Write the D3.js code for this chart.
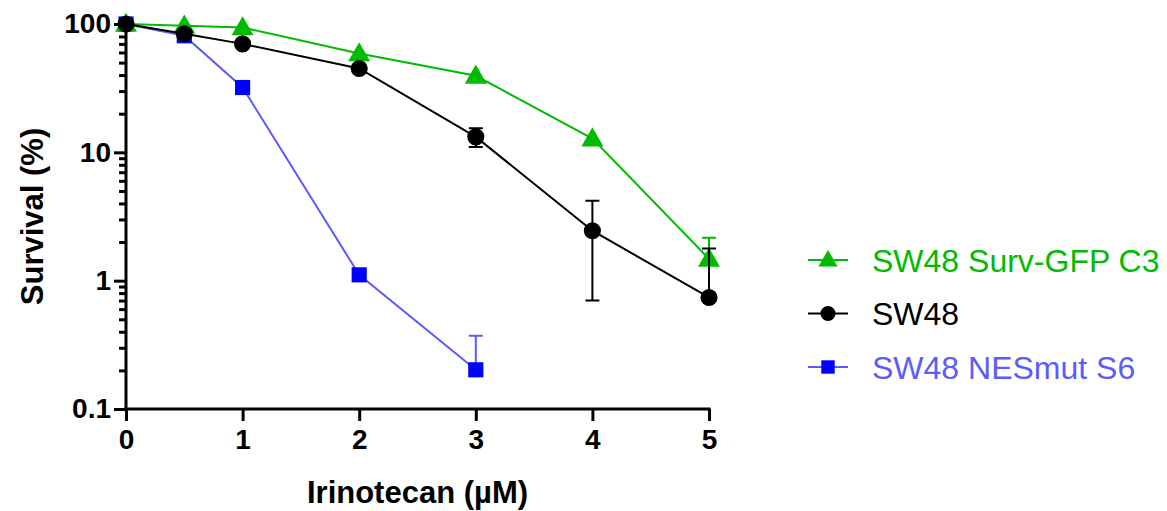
<!DOCTYPE html>
<html>
<head>
<meta charset="utf-8">
<script src="https://cdn.jsdelivr.net/npm/d3@7"></script>
<style>
  body { margin: 0; background: #fff; }
  svg text { font-family: "Liberation Sans", Arial, sans-serif; }
</style>
</head>
<body>
<svg id="chart" width="1167" height="511"></svg>
<script>
// doses (µM)
const dose = [0, 0.5, 1, 2, 3, 4, 5];
const doseBlue = [0, 0.5, 1, 2, 3];

// survival (%) and error bars
const survGfp = [100, 97, 94, 59, 39.5, 12.8, 1.48];
const survGfpErr = [0, 0, 0, 0, 0, 0, 0.68];
const sw48 = [100, 84, 70, 45, 13.2, 2.45, 0.74];
const sw48Err = [0, 0, 0, 0, 2.2, 1.75, 1.04];
const nesMut = [100, 81, 32, 1.11, 0.202];
const nesMutErr = [0, 0, 0, 0.07, 0.17];

const xTicks = [0, 1, 2, 3, 4, 5];
const yTicks = [0.1, 1, 10, 100];

const series = [
  {name: 'SW48 NESmut S6', x: doseBlue, y: nesMut, err: nesMutErr, line: '#5b5bff', fill: '#0000ff', text: '#5b5bff', shape: d3.symbolSquare},
  {name: 'SW48 Surv-GFP C3', x: dose, y: survGfp, err: survGfpErr, line: '#00bb00', fill: '#00bb00', text: '#00bb00', shape: d3.symbolTriangle},
  {name: 'SW48', x: dose, y: sw48, err: sw48Err, line: '#000', fill: '#000', text: '#000', shape: d3.symbolCircle}
];

const svg = d3.select('#chart');

const xScale = d3.scaleLinear().domain([0, 5]).range([126, 709]);
const yScale = d3.scaleLog().domain([0.1, 100]).range([409, 24]);

// axes
const xAxisG = svg.append('g')
  .attr('transform', `translate(0,${yScale(0.1)})`)
  .call(d3.axisBottom(xScale).tickValues(xTicks).tickSize(12).tickPadding(6).tickFormat(d3.format('d')));

const minor = [];
[0.1, 1, 10].forEach(b => { for (let k = 2; k <= 9; k++) minor.push(b * k); });

svg.append('g')
  .attr('transform', `translate(${xScale(0)},0)`)
  .call(d3.axisLeft(yScale).tickValues(minor).tickSize(7).tickFormat(''))
  .call(g => g.select('.domain').remove());

const yAxisG = svg.append('g')
  .attr('transform', `translate(${xScale(0)},0)`)
  .call(d3.axisLeft(yScale).tickValues(yTicks).tickSize(12).tickPadding(3).tickFormat(d => d3.format('~g')(d)));

svg.selectAll('g').attr('font-family', null);
svg.selectAll('.domain').attr('stroke', '#000').attr('stroke-width', 3);
svg.selectAll('.tick line').attr('stroke', '#000').attr('stroke-width', 3);
svg.selectAll('.tick text')
  .attr('fill', '#000')
  .attr('font-size', 28)
  .attr('font-weight', 'bold');
xAxisG.selectAll('.tick text').attr('dy', '0.8em');
// straight domain paths (no outer ticks)
xAxisG.select('.domain').attr('d', `M${xScale(0) - 1.5},0H${xScale(5) + 1.5}`);
yAxisG.select('.domain').attr('d', `M0,${yScale(0.1) + 1.5}V${yScale(100) - 6}`);

// axis titles
svg.append('text')
  .attr('x', (xScale(0) + xScale(5)) / 2)
  .attr('y', 503)
  .attr('text-anchor', 'middle')
  .attr('font-size', 31)
  .attr('font-weight', 'bold')
  .text('Irinotecan (µM)');

svg.append('text')
  .attr('transform', `translate(43,${(yScale(0.1) + yScale(100)) / 2}) rotate(-90)`)
  .attr('text-anchor', 'middle')
  .attr('font-size', 31)
  .attr('font-weight', 'bold')
  .text('Survival (%)');

// series
const line = d3.line().x(d => xScale(d[0])).y(d => yScale(d[1]));
const capW = 7;

series.forEach(s => {
  const pts = s.x.map((x, i) => [x, s.y[i], s.err[i]]);
  const g = svg.append('g');

  g.append('path')
    .attr('d', line(pts))
    .attr('fill', 'none')
    .attr('stroke', s.line)
    .attr('stroke-width', 2);

  // error bars; lower whisker skipped when it leaves the log range
  pts.filter(p => p[2] > 0).forEach(p => {
    const cx = xScale(p[0]);
    const hi = yScale(p[1] + p[2]);
    const loV = p[1] - p[2];
    const lo = loV > 0.1 ? yScale(loV) : yScale(p[1]);
    g.append('path')
      .attr('d', `M${cx},${hi}V${lo}M${cx - capW},${hi}H${cx + capW}` + (loV > 0.1 ? `M${cx - capW},${lo}H${cx + capW}` : ''))
      .attr('fill', 'none')
      .attr('stroke', s.line)
      .attr('stroke-width', 2);
  });

  const sym = d3.symbol().type(s.shape).size(s.shape === d3.symbolTriangle ? 210 : 230);
  g.selectAll('path.pt')
    .data(pts)
    .join('path')
    .attr('class', 'pt')
    .attr('transform', d => `translate(${xScale(d[0])},${yScale(d[1]) + (s.shape === d3.symbolTriangle ? 1.5 : 0)})`)
    .attr('d', sym())
    .attr('fill', s.fill);
});

// legend
const legendOrder = [series[1], series[2], series[0]];
const legend = svg.append('g');
legendOrder.forEach((s, i) => {
  const ly = 260 + i * 53.5;
  legend.append('line')
    .attr('x1', 808).attr('x2', 848)
    .attr('y1', ly).attr('y2', ly)
    .attr('stroke', s.line).attr('stroke-width', 2);
  legend.append('path')
    .attr('transform', `translate(828,${ly + (s.shape === d3.symbolTriangle ? 1 : 0)})`)
    .attr('d', d3.symbol().type(s.shape).size(s.shape === d3.symbolTriangle ? 160 : 180)())
    .attr('fill', s.fill);
  legend.append('text')
    .attr('x', 872)
    .attr('y', ly)
    .attr('dy', '0.36em')
    .attr('font-size', 32)
    .attr('fill', s.text)
    .text(s.name);
});
</script>
</body>
</html>
